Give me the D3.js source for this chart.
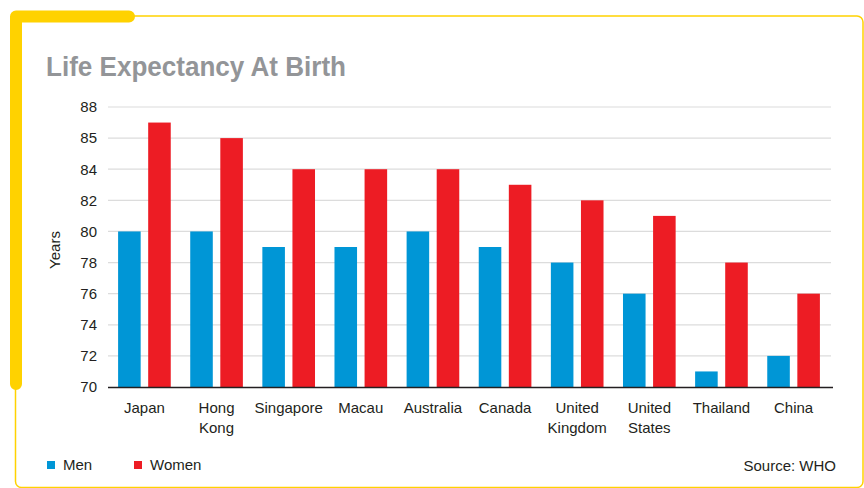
<!DOCTYPE html>
<html>
<head>
<meta charset="utf-8">
<script src="https://cdn.jsdelivr.net/npm/d3@7"></script>
<style>
  body { margin: 0; background: #fff; }
  svg { display: block; font-family: "Liberation Sans", Arial, sans-serif; }
</style>
</head>
<body>
<svg id="chart" width="864" height="488"></svg>
<script>
const countries = ["Japan", "Hong Kong", "Singapore", "Macau", "Australia", "Canada", "United Kingdom", "United States", "Thailand", "China"];
const men = [80, 80, 79, 79, 80, 79, 78, 76, 71, 72];
const women = [87, 86, 84, 84, 84, 83, 82, 81, 78, 76];
const tickValues = [70, 72, 74, 76, 78, 80, 82, 84, 86, 88];
const tickLabels = ["70", "72", "74", "76", "78", "80", "82", "84", "85", "88"];
const seriesNames = ["Men", "Women"];
const colors = ["#0096d6", "#ed1c24"];

const svg = d3.select("#chart");

// frame
const yellow = "#ffd200";
svg.append("rect")
    .attr("x", 15.5).attr("y", 16)
    .attr("width", 847.5).attr("height", 471.5)
    .attr("rx", 6)
    .attr("fill", "none")
    .attr("stroke", yellow)
    .attr("stroke-width", 1.5);
svg.append("path")
    .attr("d", "M16,384 L16,16.5 L129,16.5")
    .attr("fill", "none")
    .attr("stroke", yellow)
    .attr("stroke-width", 12)
    .attr("stroke-linecap", "round")
    .attr("stroke-linejoin", "round");

svg.append("text")
    .attr("x", 46).attr("y", 76)
    .attr("fill", "#939598")
    .attr("font-size", 27)
    .attr("font-weight", "bold")
    .attr("textLength", 300)
    .attr("lengthAdjust", "spacingAndGlyphs")
    .text("Life Expectancy At Birth");

const x0 = d3.scaleBand()
    .domain(countries)
    .range([108, 830])
    .paddingInner(0.27)
    .paddingOuter(0.14);

const x1 = d3.scaleBand()
    .domain(seriesNames)
    .range([0, x0.bandwidth()])
    .paddingInner(0.25);

const y = d3.scaleLinear()
    .domain([70, 88])
    .range([387, 107]);

// gridlines
svg.append("g")
    .selectAll("line")
    .data(tickValues.slice(1))
    .join("line")
    .attr("x1", 108).attr("x2", 831)
    .attr("y1", d => y(d)).attr("y2", d => y(d))
    .attr("stroke", "#dcdcdc")
    .attr("stroke-width", 1.2);

// y axis labels
const yAxis = d3.axisLeft(y)
    .tickValues(tickValues)
    .tickFormat((d, i) => tickLabels[i])
    .tickSize(0)
    .tickPadding(11);

svg.append("g")
    .attr("transform", "translate(108,0)")
    .call(yAxis)
    .call(g => g.select(".domain").remove())
    .selectAll("text")
    .attr("font-size", 15)
    .attr("fill", "#231f20")
    .attr("font-family", "Liberation Sans, Arial, sans-serif");

svg.append("text")
    .attr("transform", "translate(60,250) rotate(-90)")
    .attr("text-anchor", "middle")
    .attr("font-size", 15)
    .attr("fill", "#231f20")
    .text("Years");

// bars
const data = countries.map((c, i) => ({ country: c, values: [men[i], women[i]] }));

const groups = svg.append("g")
    .selectAll("g")
    .data(data)
    .join("g")
    .attr("transform", d => `translate(${x0(d.country)},0)`);

groups.selectAll("rect")
    .data(d => d.values.map((v, i) => ({ key: seriesNames[i], value: v, color: colors[i] })))
    .join("rect")
    .attr("x", d => x1(d.key))
    .attr("width", x1.bandwidth())
    .attr("y", d => y(d.value))
    .attr("height", d => y(70) - y(d.value))
    .attr("fill", d => d.color);

// x axis line
svg.append("line")
    .attr("x1", 108).attr("x2", 833)
    .attr("y1", 387.5).attr("y2", 387.5)
    .attr("stroke", "#231f20")
    .attr("stroke-width", 1.3);

// category labels
const labels = svg.append("g")
    .selectAll("text")
    .data(countries)
    .join("text")
    .attr("x", d => x0(d) + x0.bandwidth() / 2)
    .attr("y", 413)
    .attr("text-anchor", "middle")
    .attr("font-size", 15)
    .attr("fill", "#231f20");

labels.selectAll("tspan")
    .data(d => d.split(" "))
    .join("tspan")
    .attr("x", function() { return d3.select(this.parentNode).attr("x"); })
    .attr("dy", (d, i) => (i === 0 ? 0 : 19.5))
    .text(d => d);

// legend
const legend = svg.append("g");
const legendX = [47, 134];
seriesNames.forEach((name, i) => {
    legend.append("rect")
        .attr("x", legendX[i]).attr("y", 461)
        .attr("width", 8).attr("height", 8)
        .attr("fill", colors[i]);
    legend.append("text")
        .attr("x", legendX[i] + 16).attr("y", 470)
        .attr("font-size", 15)
        .attr("fill", "#231f20")
        .text(name);
});

svg.append("text")
    .attr("x", 836).attr("y", 471)
    .attr("text-anchor", "end")
    .attr("font-size", 15)
    .attr("fill", "#231f20")
    .text("Source: WHO");
</script>
</body>
</html>
